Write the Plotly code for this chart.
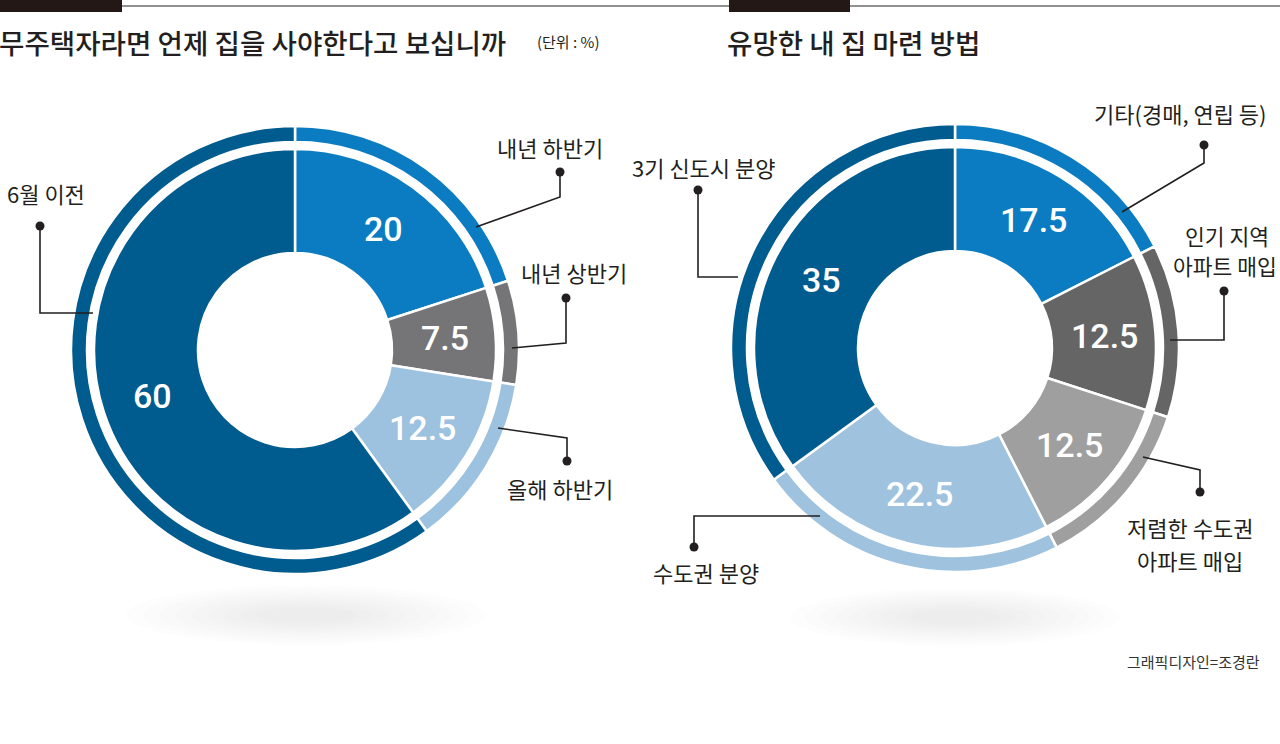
import math
import plotly.graph_objects as go

W, H = 1280, 744

# ---- data ----
left_title = "무주택자라면 언제 집을 사야한다고 보십니까"
left_unit = "(단위 : %)"
left_labels = ["내년 하반기", "내년 상반기", "올해 하반기", "6월 이전"]
left_values = [20, 7.5, 12.5, 60]
left_colors = ["#0b7cc1", "#757476", "#9dc2df", "#005b8f"]

right_title = "유망한 내 집 마련 방법"
right_labels = ["기타(경매, 연립 등)", "인기 지역 아파트 매입", "저렴한 수도권 아파트 매입", "수도권 분양", "3기 신도시 분양"]
right_values = [17.5, 12.5, 12.5, 22.5, 35]
right_colors = ["#0b7cc1", "#666566", "#a09fa0", "#9fc3df", "#005b8f"]

credit = "그래픽디자인=조경란"

KFONT = "Noto Sans CJK KR"
TXT = "#231f20"


def px(x, y):
    return x / W, 1 - y / H


def dom(cx, cy, r):
    return dict(x=[(cx - r) / W, (cx + r) / W], y=[1 - (cy + r) / H, 1 - (cy - r) / H])


fig = go.Figure()
shapes = []
annotations = []

# shadows (approximate soft blur by stacking translucent ellipses)
for scx, scy, srx, sry in [(306, 615, 180, 30), (955, 617, 165, 29)]:
    for k in range(9):
        f = 1 - k * 0.09
        rx, ry = srx * f, sry * f
        x0, y0 = px(scx - rx, scy + ry)
        x1, y1 = px(scx + rx, scy - ry)
        shapes.append(dict(type="circle", xref="paper", yref="paper", x0=x0, y0=y0, x1=x1, y1=y1,
                           fillcolor="rgba(0,0,0,0.008)", line=dict(width=0), layer="below"))


def add_donut(cx, cy, labels, values, colors):
    r_out, r_ring_in, r_in, r_hole = 224, 208, 201, 97
    fig.add_trace(go.Pie(labels=labels, values=values, sort=False, direction="clockwise", rotation=0,
                         hole=r_ring_in / r_out, domain=dom(cx, cy, r_out), textinfo="none",
                         marker=dict(colors=colors, line=dict(color="white", width=2.5)),
                         showlegend=False, hoverinfo="label+value"))
    fig.add_trace(go.Pie(labels=labels, values=values, sort=False, direction="clockwise", rotation=0,
                         hole=r_hole / r_in, domain=dom(cx, cy, r_in), textinfo="none",
                         marker=dict(colors=colors, line=dict(color="white", width=2.5)),
                         showlegend=False, hoverinfo="label+value"))
    total = sum(values)
    cum = 0
    for v in values:
        th = math.radians(360 * (cum + v / 2) / total)
        cum += v
        R = 150
        x, y = px(cx + R * math.sin(th), cy - R * math.cos(th))
        s = ("%g" % v)
        annotations.append(dict(x=x, y=y, xref="paper", yref="paper", text=s, showarrow=False,
                                font=dict(family="Roboto", size=34, color="white", weight=500),
                                xanchor="center", yanchor="middle"))


add_donut(295, 350, left_labels, left_values, left_colors)
add_donut(955, 348, right_labels, right_values, right_colors)


def poly(points):
    pts = [px(x, y) for x, y in points]
    path = "M " + " L ".join(f"{a},{b}" for a, b in pts)
    shapes.append(dict(type="path", xref="paper", yref="paper", path=path,
                       line=dict(color=TXT, width=1.6)))
    # dot at last point
    dx, dy = points[-1]
    r = 4.5
    x0, y0 = px(dx - r, dy + r)
    x1, y1 = px(dx + r, dy - r)
    shapes.append(dict(type="circle", xref="paper", yref="paper", x0=x0, y0=y0, x1=x1, y1=y1,
                       fillcolor=TXT, line=dict(width=0)))


def label(text, x, y, size=22):
    xx, yy = px(x, y)
    annotations.append(dict(x=xx, y=yy, xref="paper", yref="paper", text=text, showarrow=False,
                            font=dict(family=KFONT, size=size, color=TXT),
                            xanchor="center", yanchor="middle", align="center", borderpad=0))


# left leader lines & labels
poly([(476, 227), (560, 197), (560, 172)])
label(left_labels[0], 550, 147)
poly([(512, 348), (566, 343), (566, 298)])
label(left_labels[1], 574, 272)
poly([(498, 428), (567, 438), (567, 461)])
label(left_labels[2], 560, 488)
poly([(93, 313), (40, 313), (40, 226)])
label(left_labels[3], 46, 193)

# right leader lines & labels
poly([(1122, 212), (1204, 163), (1204, 145)])
label(right_labels[0], 1180, 113)
poly([(1170, 340), (1224, 340), (1224, 291)])
label("인기 지역", 1227, 235, size=21.5)
label("아파트 매입", 1225, 265, size=21.5)
poly([(1143, 457), (1200, 470), (1200, 492)])
label("저렴한 수도권", 1190, 527)
label("아파트 매입", 1190, 560)
poly([(820, 516), (694, 516), (694, 547)])
label(right_labels[3], 706, 572)
poly([(738, 277), (698, 277), (698, 190)])
label(right_labels[4], 704, 167)

# top rule and bars
x0, y0 = px(0, 6)
x1, _ = px(W, 6)
shapes.append(dict(type="line", xref="paper", yref="paper", x0=x0, y0=y0, x1=x1, y1=y0,
                   line=dict(color="#6d6d6d", width=1.5)))
for bx0, bx1 in [(0, 122), (729, 850)]:
    a, b = px(bx0, 12)
    c, d = px(bx1, 0)
    shapes.append(dict(type="rect", xref="paper", yref="paper", x0=a, y0=b, x1=c, y1=d,
                       fillcolor="#231815", line=dict(width=0)))

# titles
tx, ty = px(-3, 42)
annotations.append(dict(x=tx, y=ty, xref="paper", yref="paper", text=left_title, showarrow=False,
                        font=dict(family=KFONT, size=27.6, color=TXT, weight=500),
                        xanchor="left", yanchor="middle"))
tx, ty = px(725, 42)
annotations.append(dict(x=tx, y=ty, xref="paper", yref="paper", text=right_title, showarrow=False,
                        font=dict(family=KFONT, size=27.6, color=TXT, weight=500),
                        xanchor="left", yanchor="middle"))
tx, ty = px(535, 42)
annotations.append(dict(x=tx, y=ty, xref="paper", yref="paper", text=left_unit, showarrow=False,
                        font=dict(family=KFONT, size=15, color=TXT),
                        xanchor="left", yanchor="middle"))
tx, ty = px(1262, 661)
annotations.append(dict(x=tx, y=ty, xref="paper", yref="paper", text=credit, showarrow=False,
                        font=dict(family=KFONT, size=15, color="#333333"),
                        xanchor="right", yanchor="middle"))

fig.update_layout(width=W, height=H, margin=dict(l=0, r=0, t=0, b=0),
                  paper_bgcolor="white", plot_bgcolor="white",
                  shapes=shapes, annotations=annotations, showlegend=False)

fig.write_html("out.html", config={"displayModeBar": False},
               post_script="document.body.style.margin='0';document.body.style.overflow='hidden';")
